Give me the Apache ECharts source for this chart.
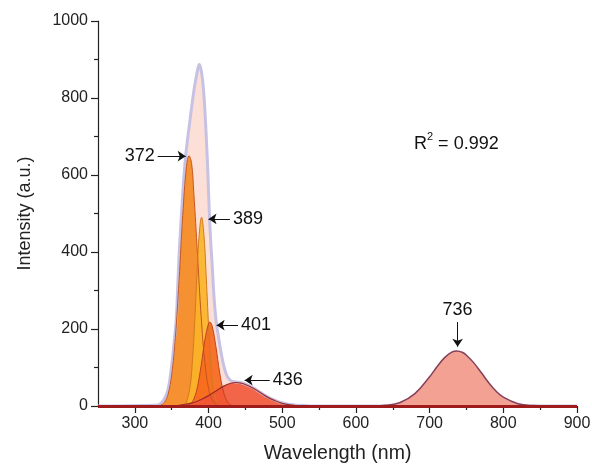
<!DOCTYPE html>
<html><head><meta charset="utf-8">
<script src="https://cdn.jsdelivr.net/npm/echarts@6/dist/echarts.min.js"></script>
<style>html,body{margin:0;padding:0;background:#fff}#c{width:592px;height:467px}</style>
</head><body><div id="c"></div>
<script>
// Envelope (measured spectrum / cumulative fit)
const envX=[250,330,335,340,345,350,353,356,358,360,363,366,369,372,375,378,381,384,386,387.5,389,391,393,395,397,399,401,403,405,407,409,411,413,416,420,425,430,435,440,450,460,470,480,490,500,510,520,530,540,900];
const envY=[0,2,6,18,42,105,160,220,300,390,490,580,650,700,745,790,830,862,880,887,880,860,825,770,695,610,505,425,365,295,245,210,185,150,110,78,66,63,62,57,48,36,24,15,8,4,2,1,0,0];
// Peak 372
const p372X=[250,330,335,340,345,350,355,360,365,370,373.5,377,380,385,390,395,400,405,410,415,900];
const p372Y=[0,0,2,9,30,81,178,326,495,621,650,630,554,394,232,113,46,15,4,0,0];
// Peak 389
const p389X=[250,362,366,370,375,378,381,384,387,390.5,394,397,400,403,406,411,416,900];
const p389Y=[0,0,2,10,51,113,210,330,437,490,437,330,210,113,51,10,1,0];
// Peak 401
const p401X=[250,365,370,375,380,385,390,395,400,401.8,405,410,415,420,425,430,435,900];
const p401Y=[0,0,1,5,18,50,106,171,214,218,207,154,88,39,13,3,0,0];
// Peak 436
const p436X=[250,340,350,360,370,380,390,400,410,420,430,438,445,450,460,470,480,490,500,510,520,530,900];
const p436Y=[0,0,1,2,5,9,17,27,39,51,59,61,59,56,47,35,23,14,7,3,1,0,0];
// Peak 736
const p736X=[250,600,620,640,660,680,700,710,720,730,737,745,750,760,770,780,790,800,820,840,860,900];
const p736Y=[0,0,0.3,2,9,32,76,102,125,140,143,139,132,112,87,61,39,23,6,1,0,0];

const xTickLabels=[300,400,500,600,700,800,900];
const xMinorTicks=[350,450,550,650,750,850];
const peakLabels=['372','389','401','436','736'];
const arrowFrom=[[331,649],[429,486],[440,210],[483,67],[738,218]];
const arrowTo=[[369,649],[400,486],[411,210],[449,67],[738,154]];

function zip(xs,ys){return xs.map((x,i)=>[x,ys[i]]);}
const FONT='"Liberation Sans", Arial, Helvetica, sans-serif';
const chart=echarts.init(document.getElementById('c'),null,{renderer:'canvas'});

function areaSeries(name,xs,ys,fill,line,lw,z){
  return {name,type:'line',data:zip(xs,ys),smooth:0.4,symbol:'none',showSymbol:false,z:z,
    lineStyle:{color:line,width:lw},areaStyle:{color:fill,opacity:1},
    emphasis:{disabled:true},silent:true,animation:false};
}

const s736=areaSeries('736',p736X,p736Y,'#f3a192','#86405c',1.5,3);
s736.markLine={silent:true,animation:false,symbol:['none','arrow'],symbolSize:8,symbolKeepAspect:true,
  lineStyle:{color:'#111',width:1,type:'solid'},
  label:{show:true,position:'start',formatter:'{b}',fontSize:18,color:'#111',fontFamily:FONT,distance:3},
  emphasis:{disabled:true},
  data:arrowFrom.map((f,i)=>[{coord:f,name:peakLabels[i]},{coord:arrowTo[i]}])
};
const base={name:'base',type:'line',data:[],z:4,silent:true,animation:false,
  markLine:{silent:true,animation:false,symbol:['none','none'],
    lineStyle:{color:'#9e1c1c',width:3,type:'solid'},label:{show:false},emphasis:{disabled:true},
    data:[[{coord:[250,0]},{coord:[900,0]}]]}};

chart.setOption({
  animation:false,
  backgroundColor:'#fff',
  grid:{left:98,right:15,top:21,bottom:61,containLabel:false,outerBoundsMode:'none'},
  xAxis:[{
    type:'value',min:250,max:900,
    name:'Wavelength (nm)',nameLocation:'middle',nameGap:38,
    nameTextStyle:{fontSize:19.5,color:'#222',fontFamily:FONT},
    axisLine:{show:true,onZero:false,lineStyle:{color:'#222',width:1.2}},
    axisTick:{show:true,customValues:xTickLabels,length:7,lineStyle:{color:'#222',width:1.2}},
    axisLabel:{customValues:xTickLabels,fontSize:16,color:'#222',fontFamily:FONT,margin:10,formatter:v=>String(v)},
    splitLine:{show:false}
  },{
    type:'value',min:250,max:900,position:'bottom',
    axisLine:{show:false,onZero:false},
    axisTick:{show:true,customValues:xMinorTicks,length:4,lineStyle:{color:'#222',width:1.2}},
    axisLabel:{show:false},splitLine:{show:false}
  }],
  yAxis:{
    type:'value',min:0,max:1000,interval:200,
    name:'Intensity (a.u.)',nameLocation:'middle',nameGap:64,
    nameTextStyle:{fontSize:18,color:'#222',fontFamily:FONT},
    axisLine:{show:true,lineStyle:{color:'#222',width:1.2}},
    axisTick:{show:true,length:7,lineStyle:{color:'#222',width:1.2}},
    minorTick:{show:true,splitNumber:2,length:4,lineStyle:{color:'#222',width:1.2}},
    axisLabel:{fontSize:16,color:'#222',fontFamily:FONT,margin:10,formatter:v=>String(v)},
    splitLine:{show:false}
  },
  series:[
    areaSeries('envelope',envX,envY,'#fcdfd6','#c7c1e4',3,2),
    areaSeries('372',p372X,p372Y,'rgba(246,140,40,0.95)','#c4561e',1,2),
    areaSeries('389',p389X,p389Y,'rgba(250,180,40,0.92)','#d27a1c',1,2),
    areaSeries('401',p401X,p401Y,'rgba(246,104,30,0.92)','#c0441c',1,2),
    areaSeries('436',p436X,p436Y,'rgba(240,84,52,0.88)','#9c2c2a',1.2,2),
    s736,
    base
  ],
  graphic:[{type:'text',left:414,top:131,z:10,silent:true,
    style:{text:'{a|R}{b|2}{a| = 0.992}',fill:'#111',
      rich:{a:{fontSize:18,fontFamily:FONT,fill:'#111',lineHeight:22,verticalAlign:'bottom'},
            b:{fontSize:11,fontFamily:FONT,fill:'#111',lineHeight:22,verticalAlign:'top'}}}}]
});
</script></body></html>
